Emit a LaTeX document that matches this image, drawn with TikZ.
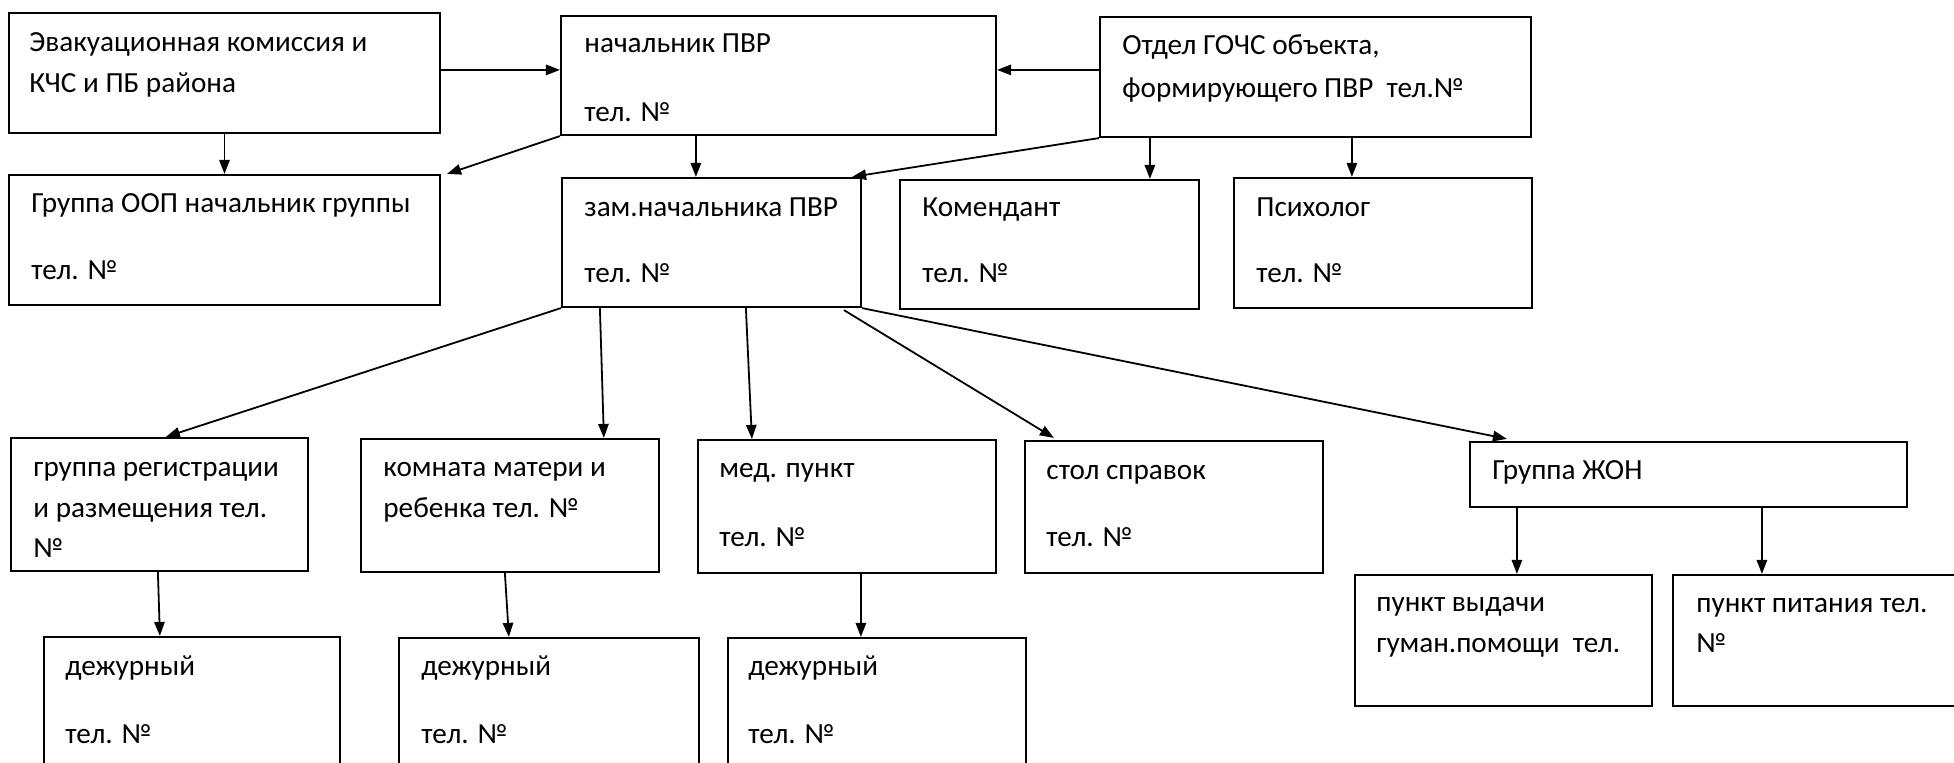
\documentclass[tikz,border=0pt]{standalone}
\usepackage{fontspec}
\setmainfont{Carlito}
\usetikzlibrary{arrows.meta,fit,calc}
\tikzset{
  box/.style={draw=black, line width=1.1pt, inner sep=0pt, fill=none},
  txt/.style={anchor=base west, inner sep=0pt, font=\fontsize{14.6}{20}\selectfont},
  con/.style={draw=black, line width=0.9pt, -{Triangle[length=7pt,width=5.2pt]}},
}
\begin{document}
\begin{tikzpicture}[x=0.5pt,y=-0.5pt]
\useasboundingbox (0,0) rectangle (1954,763);
\clip (0,0) rectangle (1954,763);
\fill[white] (0,0) rectangle (1954,763);
% boxes
\node[box, fit={(9,13) (440,133)}] (evak) {};
\node[box, fit={(561,16) (996,135)}] (nach) {};
\node[box, fit={(1100,17) (1531,137)}] (otdel) {};
\node[box, fit={(9,175) (440,305)}] (oop) {};
\node[box, fit={(562,178) (861,307)}] (zam) {};
\node[box, fit={(900,180) (1199,309)}] (komend) {};
\node[box, fit={(1234,178) (1532,308)}] (psych) {};
\node[box, fit={(11,438) (308,571)}] (reg) {};
\node[box, fit={(361,439) (659,572)}] (komn) {};
\node[box, fit={(698,440) (996,573)}] (med) {};
\node[box, fit={(1025,441) (1323,573)}] (stol) {};
\node[box, fit={(1470,442) (1907,507)}] (zhon) {};
\node[box, fit={(44,637) (340,820)}] (dezhA) {};
\node[box, fit={(399,638) (699,820)}] (dezhB) {};
\node[box, fit={(728,638) (1026,820)}] (dezhC) {};
\node[box, fit={(1355,575) (1652,706)}] (vyd) {};
\node[box, fit={(1673,575) (2010,706)}] (pit) {};
% texts
\node[txt] (evak1) at (29,52) {Эвакуационная комиссия и};
\node[txt] (evak2) at (29,93) {КЧС и ПБ района};
\node[txt] (nach1) at (584,53) {начальник ПВР};
\node[txt] (nach2) at (584,122) {тел. №};
\node[txt] (otdel1) at (1122,55) {Отдел ГОЧС объекта,};
\node[txt] (otdel2) at (1122,98) {формирующего ПВР\ \ тел.№};
\node[txt] (oop1) at (31,213) {Группа ООП начальник группы};
\node[txt] (oop2) at (31,280) {тел. №};
\node[txt] (zam1) at (584,217) {зам.начальника ПВР};
\node[txt] (zam2) at (584,283) {тел. №};
\node[txt] (komend1) at (922,217) {Комендант};
\node[txt] (komend2) at (922,283) {тел. №};
\node[txt] (psych1) at (1256,217) {Психолог};
\node[txt] (psych2) at (1256,283) {тел. №};
\node[txt] (reg1) at (33,477) {группа регистрации};
\node[txt] (reg2) at (33,518) {и размещения тел.};
\node[txt] (reg3) at (33,558) {№};
\node[txt] (komn1) at (383,477) {комната матери и};
\node[txt] (komn2) at (383,518) {ребенка тел. №};
\node[txt] (med1) at (719,478) {мед. пункт};
\node[txt] (med2) at (719,547) {тел. №};
\node[txt] (stol1) at (1046,480) {стол справок};
\node[txt] (stol2) at (1046,547) {тел. №};
\node[txt] (zhon1) at (1492,480) {Группа ЖОН};
\node[txt] (dezhA1) at (65,676) {дежурный};
\node[txt] (dezhA2) at (65,744) {тел. №};
\node[txt] (dezhB1) at (421,676) {дежурный};
\node[txt] (dezhB2) at (421,744) {тел. №};
\node[txt] (dezhC1) at (748,676) {дежурный};
\node[txt] (dezhC2) at (748,744) {тел. №};
\node[txt] (vyd1) at (1376,612) {пункт выдачи};
\node[txt] (vyd2) at (1376,653) {гуман.помощи\ \ тел.};
\node[txt] (pit1) at (1696,613) {пункт питания тел.};
\node[txt] (pit2) at (1696,653) {№};
% connectors
\draw[con] ($(evak.north east)+(0,58)$) -- ($(nach.north west)+(0,55)$);
\draw[con] ($(otdel.north west)+(0,54)$) -- ($(nach.north east)+(0,55)$);
\draw[con] (evak.south) -- (oop.north);
\draw[con] (nach.south west) -- ($(oop.north east)+(6,0)$);
\draw[con] ($(nach.south west)+(136,0)$) -- ($(zam.north west)+(135,0)$);
\draw[con] (otdel.south west) -- ($(zam.north east)+(-10,0)$);
\draw[con] ($(otdel.south west)+(51,0)$) -- ($(komend.north west)+(251,0)$);
\draw[con] ($(otdel.south west)+(253,0)$) -- ($(psych.north west)+(119,0)$);
\draw[con] (zam.south west) -- ($(reg.north west)+(156,0)$);
\draw[con] ($(zam.south west)+(39,0)$) -- ($(komn.north west)+(244,0)$);
\draw[con] ($(zam.south west)+(185,0)$) -- ($(med.north west)+(55,0)$);
\draw[con] ($(zam.south west)+(283,2)$) -- ($(stol.north west)+(30,-2)$);
\draw[con] (zam.south east) -- ($(zhon.north west)+(38,-2)$);
\draw[con] ($(reg.south west)+(148,0)$) -- ($(dezhA.north west)+(117,0)$);
\draw[con] ($(komn.south west)+(145,0)$) -- ($(dezhB.north west)+(111,0)$);
\draw[con] ($(med.south west)+(164,0)$) -- ($(dezhC.north west)+(134,0)$);
\draw[con] ($(zhon.south west)+(48,0)$) -- ($(vyd.north west)+(163,0)$);
\draw[con] ($(zhon.south west)+(293,0)$) -- ($(pit.north west)+(90,0)$);
\end{tikzpicture}
\end{document}
